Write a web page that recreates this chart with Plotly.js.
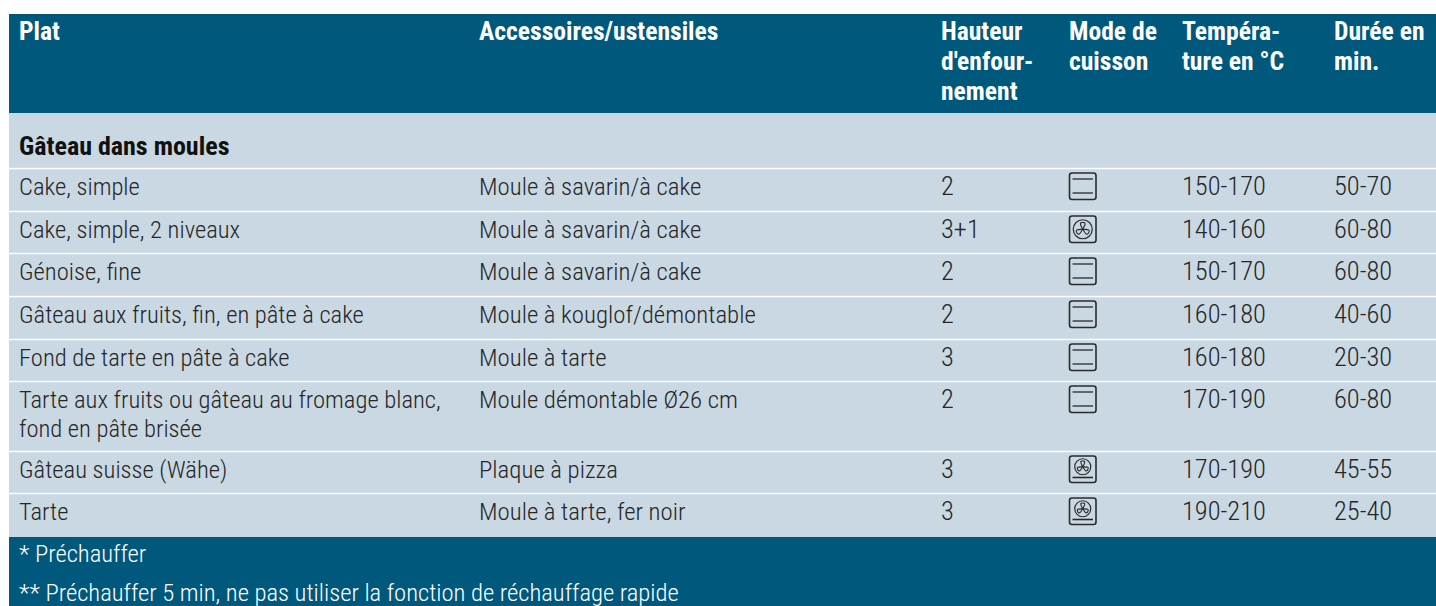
<!DOCTYPE html>
<html><head><meta charset="utf-8">
<script src="https://cdn.plot.ly/plotly-3.0.1.min.js"></script>
<style>html,body{margin:0;padding:0;background:#fff}</style></head>
<body><div id="c" style="width:1436px;height:606px"></div>
<script>
const headers=[["Plat"],["Accessoires/ustensiles"],["Hauteur","d'enfour-","nement"],["Mode de","cuisson"],["Tempéra-","ture en °C"],["Durée en","min."]];
const section="Gâteau dans moules";
const plats=[["Cake, simple"],["Cake, simple, 2 niveaux"],["Génoise, fine"],["Gâteau aux fruits, fin, en pâte à cake"],["Fond de tarte en pâte à cake"],["Tarte aux fruits ou gâteau au fromage blanc,","fond en pâte brisée"],["Gâteau suisse (Wähe)"],["Tarte"]];
const accessoires=["Moule à savarin/à cake","Moule à savarin/à cake","Moule à savarin/à cake","Moule à kouglof/démontable","Moule à tarte","Moule démontable Ø26 cm","Plaque à pizza","Moule à tarte, fer noir"];
const hauteurs=["2","3+1","2","2","3","2","3","3"];
const modes=["top","fan","top","top","top","top","fanbottom","fanbottom"];
const temperatures=["150-170","140-160","150-170","160-180","160-180","170-190","170-190","190-210"];
const durees=["50-70","60-80","60-80","40-60","20-30","60-80","45-55","25-40"];
const notes=["* Préchauffer","** Préchauffer 5 min, ne pas utiliser la fonction de réchauffage rapide"];
const columnX=[18,478,940,1068,1181,1333];
const rowTop=[169,212,254,297,340,382,452,494];
const DARK="#00587c",LIGHT="#c9d8e2",INK="#262626",ICON="#2b2b2b";
const FONT="Roboto Condensed, Roboto, sans-serif";
const ann=[],shapes=[];
const T=(x,y,t,c,b,size)=>ann.push({x,y,text:t,xref:"x",yref:"y",xanchor:"left",yanchor:"top",align:"left",showarrow:false,borderpad:0,font:{family:FONT,size:size||(b?25.6:24.6),color:c,weight:b?700:300}});
const R=(x0,y0,x1,y1,f)=>shapes.push({type:"rect",x0,y0,x1,y1,xref:"x",yref:"y",fillcolor:f,line:{width:0},layer:"below"});
const P=(path,w,fill)=>shapes.push({type:"path",path,xref:"x",yref:"y",fillcolor:fill||"rgba(0,0,0,0)",line:{color:ICON,width:w||1.3}});
const L=(x0,y0,x1,y1,w)=>P(`M${x0},${y0}L${x1},${y1}`,w);
R(9,14,1436,113,DARK);R(9,113,1436,537,LIGHT);R(9,537,1436,606,DARK);
rowTop.forEach(y=>shapes.push({type:"line",x0:9,x1:1436,y0:y-.5,y1:y-.5,xref:"x",yref:"y",line:{color:"#fff",width:1.6}}));
headers.forEach((h,i)=>h.forEach((t,j)=>T(columnX[i],14.5+30*j,t,"#fff",true)));
T(columnX[0],130,section,"#111",true,26);
plats.forEach((p,r)=>{const y=rowTop[r]+1.7;
 p.forEach((t,j)=>T(columnX[0],y+29*j,t,INK));
 T(columnX[1],y,accessoires[r],INK,false,24.8);T(columnX[2],y-.7,hauteurs[r],INK,false,26.4);
 T(columnX[4],y-.7,temperatures[r],INK,false,26.4);T(columnX[5],y-.7,durees[r],INK,false,26.4);
 const x=1069.5,top=rowTop[r]+4,s=26.5,k=2.5;
 P(`M${x+k},${top}H${x+s-k}Q${x+s},${top} ${x+s},${top+k}V${top+s-k}Q${x+s},${top+s} ${x+s-k},${top+s}H${x+k}Q${x},${top+s} ${x},${top+s-k}V${top+k}Q${x},${top} ${x+k},${top}Z`,1.6);
 if(modes[r]=="top"){L(x+3,top+6,x+s-3,top+6);L(x+3,top+20,x+s-3,top+20);}
 else{
  const isFan=modes[r]=="fan",cx=x+s/2,cy=top+(isFan?s/2:s/2-2.5),rad=isFan?9.5:8;
  shapes.push({type:"circle",x0:cx-rad,x1:cx+rad,y0:cy-rad,y1:cy+rad,xref:"x",yref:"y",line:{color:ICON,width:1.2}});
  [-90,30,150].forEach(a=>{const q=a*Math.PI/180,pt=(d,o)=>{const X=cx+d*Math.cos(q)-o*Math.sin(q),Y=cy+d*Math.sin(q)+o*Math.cos(q);return X.toFixed(2)+","+Y.toFixed(2)};
   const n=rad*0.72,w=rad*0.42;
   P(`M${pt(0,0)}C${pt(n*.5,-w*.4)} ${pt(n,-w*1.1)} ${pt(n,0)}C${pt(n,w*1.1)} ${pt(n*.5,w*.4)} ${pt(0,0)}Z`,1.1);});
  if(!isFan)L(x+3,top+21.5,x+s-3,top+21.5,1.6);
 }
});
T(columnX[0],538,notes[0],"#fff");T(columnX[0],577,notes[1],"#fff");
Plotly.newPlot("c",[],{width:1436,height:606,margin:{l:0,r:0,t:0,b:0},paper_bgcolor:"#fff",plot_bgcolor:"#fff",showlegend:false,
 xaxis:{range:[0,1436],visible:false,fixedrange:true},yaxis:{range:[606,0],visible:false,fixedrange:true},annotations:ann,shapes},{displayModeBar:false,staticPlot:true});
</script></body></html>
